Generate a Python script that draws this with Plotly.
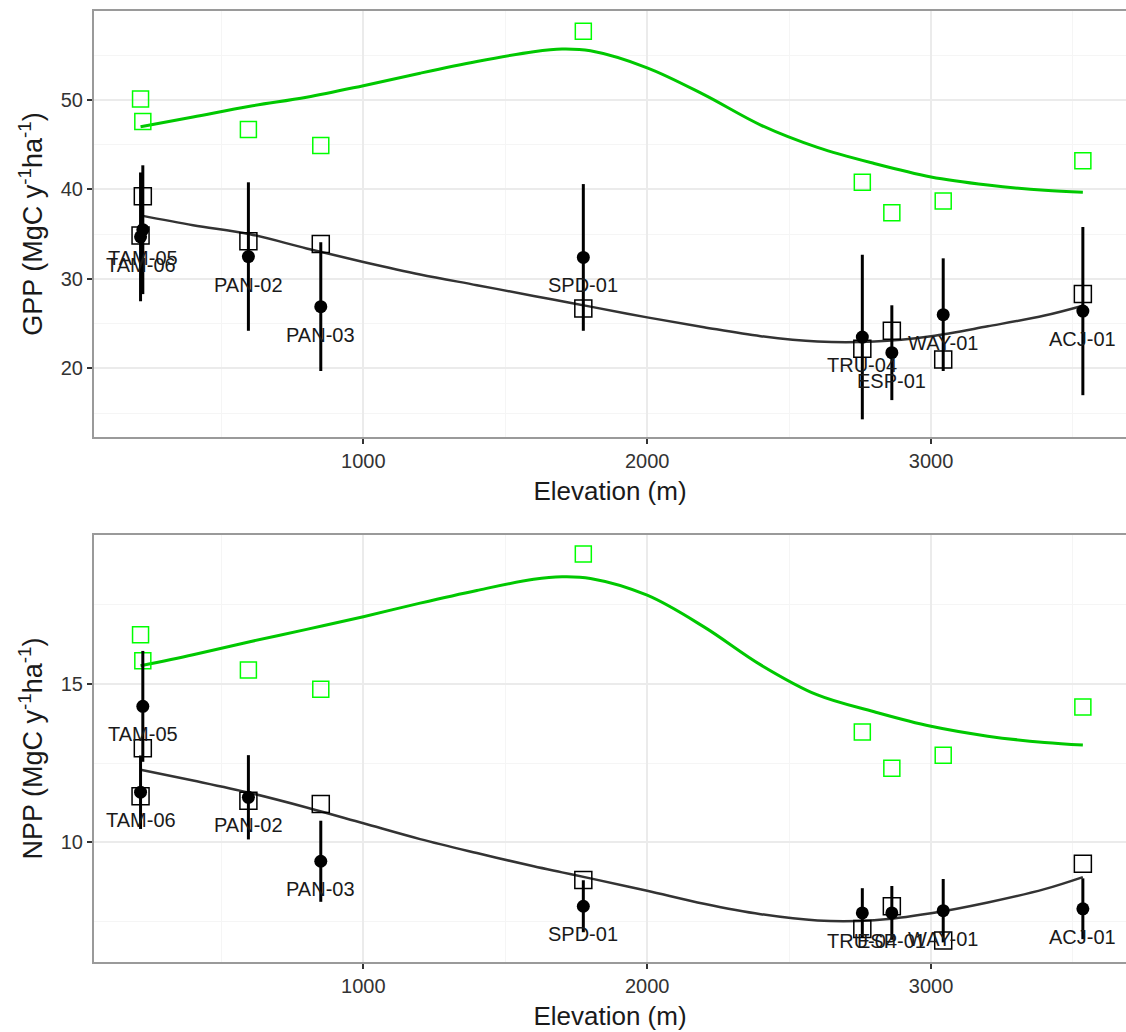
import plotly.graph_objects as go

# ---------------- data ----------------
sites = ["TAM-05", "TAM-06", "PAN-02", "PAN-03", "SPD-01", "TRU-04", "ESP-01", "WAY-01", "ACJ-01"]
elev = [223, 215, 595, 850, 1775, 2758, 2862, 3043, 3535]

gpp_obs = [35.5, 34.7, 32.5, 26.9, 32.4, 23.5, 21.75, 26.0, 26.4]
gpp_err = [7.2, 7.2, 8.3, 7.2, 8.2, 9.2, 5.3, 6.3, 9.4]
gpp_mod_black = [39.25, 34.86, 34.2, 33.9, 26.7, 22.2, 24.2, 21.0, 28.3]
gpp_mod_green = [47.6, 50.1, 46.7, 44.9, 57.7, 40.8, 37.4, 38.7, 43.2]

npp_obs = [14.29, 11.58, 11.42, 9.4, 7.98, 7.77, 7.77, 7.84, 7.9]
npp_err = [1.75, 1.16, 1.33, 1.28, 0.82, 0.78, 0.85, 1.0, 0.96]
npp_mod_black = [12.97, 11.45, 11.31, 11.21, 8.81, 7.26, 7.98, 6.9, 9.32]
npp_mod_green = [15.73, 16.55, 15.44, 14.83, 19.1, 13.48, 12.34, 12.75, 14.27]

# smoothed curves
curve_elev = [215, 400, 600, 800, 1000, 1200, 1400, 1600, 1700, 1800, 2000,
              2200, 2400, 2600, 2800, 3000, 3200, 3400, 3535]
gpp_curve_black = [37.1, 36.0, 35.0, 33.4, 31.9, 30.5, 29.3, 28.1, 27.5, 26.9, 25.7,
                   24.6, 23.6, 23.0, 23.0, 23.6, 24.7, 25.9, 27.0]
gpp_curve_green = [47.0, 48.1, 49.3, 50.3, 51.6, 53.0, 54.3, 55.4, 55.7, 55.5, 53.6,
                   50.6, 47.2, 44.7, 42.9, 41.4, 40.5, 39.9, 39.7]
npp_curve_black = [12.29, 11.95, 11.56, 11.1, 10.6, 10.1, 9.66, 9.24, 9.05, 8.86, 8.47,
                   8.06, 7.73, 7.53, 7.54, 7.76, 8.1, 8.52, 8.9]
npp_curve_green = [15.57, 15.92, 16.33, 16.72, 17.12, 17.55, 17.95, 18.3, 18.38, 18.33, 17.8,
                   16.8, 15.6, 14.65, 14.12, 13.66, 13.35, 13.15, 13.07]

x_title = "Elevation (m)"
gpp_title = "GPP (MgC y<sup>-1</sup>ha<sup>-1</sup>)"
npp_title = "NPP (MgC y<sup>-1</sup>ha<sup>-1</sup>)"

# ---------------- styles ----------------
FONT = "Liberation Sans, Arial, sans-serif"
GREEN_LINE = "#00c800"
GREEN_PT = "#00ff00"
DARK_LINE = "#333333"

fig = go.Figure()

def add_panel(xa, ya, curve_b, curve_g, mod_b, mod_g, obs, err):
    fig.add_trace(go.Scatter(x=curve_elev, y=curve_g, mode="lines",
                             line=dict(color=GREEN_LINE, width=3, shape="spline", smoothing=1.0),
                             xaxis=xa, yaxis=ya, showlegend=False, hoverinfo="skip"))
    fig.add_trace(go.Scatter(x=curve_elev, y=curve_b, mode="lines",
                             line=dict(color=DARK_LINE, width=2.5, shape="spline", smoothing=1.0),
                             xaxis=xa, yaxis=ya, showlegend=False, hoverinfo="skip"))
    fig.add_trace(go.Scatter(x=elev, y=mod_g, mode="markers",
                             marker=dict(symbol="square-open", size=16, color=GREEN_PT,
                                         line=dict(width=1.5, color=GREEN_PT)),
                             xaxis=xa, yaxis=ya, showlegend=False))
    fig.add_trace(go.Scatter(x=elev, y=mod_b, mode="markers",
                             marker=dict(symbol="square-open", size=17, color="black",
                                         line=dict(width=1.5, color="black")),
                             xaxis=xa, yaxis=ya, showlegend=False))
    fig.add_trace(go.Scatter(x=elev, y=obs, mode="markers",
                             marker=dict(symbol="circle", size=13, color="black"),
                             error_y=dict(type="data", array=err, visible=True,
                                          thickness=3, width=0, color="black"),
                             xaxis=xa, yaxis=ya, showlegend=False))
    for s, x, y in zip(sites, elev, obs):
        fig.add_annotation(x=x, y=y, xref=xa, yref=ya, text=s, showarrow=False,
                           yshift=-28, font=dict(family=FONT, size=20, color="#1a1a1a"))

add_panel("x", "y", gpp_curve_black, gpp_curve_green, gpp_mod_black, gpp_mod_green, gpp_obs, gpp_err)
add_panel("x2", "y2", npp_curve_black, npp_curve_green, npp_mod_black, npp_mod_green, npp_obs, npp_err)

def xaxis_style(anchor):
    return dict(
        anchor=anchor, range=[51, 3687], tick0=0, dtick=1000,
        showgrid=True, gridcolor="#ebebeb", gridwidth=1.5,
        minor=dict(dtick=500, tick0=0, showgrid=True, gridcolor="#f5f5f5", gridwidth=1),
        showline=True, linecolor="#9a9a9a", linewidth=2, mirror=True,
        ticks="outside", ticklen=5, tickwidth=1.5, tickcolor="#333333",
        tickfont=dict(family=FONT, size=20, color="#333333"),
        title=dict(text=x_title, font=dict(family=FONT, size=26, color="#1a1a1a"), standoff=11),
        zeroline=False,
    )

def yaxis_style(anchor, rng, dtick, mdtick, domain, title):
    return dict(
        anchor=anchor, range=rng, dtick=dtick, tick0=0, domain=domain,
        showgrid=True, gridcolor="#ebebeb", gridwidth=1.5,
        minor=dict(dtick=mdtick, tick0=0, showgrid=True, gridcolor="#f5f5f5", gridwidth=1),
        showline=True, linecolor="#9a9a9a", linewidth=2, mirror=False,
        ticks="outside", ticklen=5, tickwidth=1.5, tickcolor="#333333",
        tickfont=dict(family=FONT, size=20, color="#333333"),
        title=dict(text=title, font=dict(family=FONT, size=27, color="#1a1a1a"), standoff=10),
        zeroline=False,
    )

fig.update_layout(
    width=1126, height=1032,
    margin=dict(l=94, r=0, t=11, b=70),
    plot_bgcolor="white", paper_bgcolor="white",
    showlegend=False,
    xaxis=xaxis_style("y"),
    yaxis=yaxis_style("x", [12.32, 59.95], 10, 5, [0.552, 1.0], gpp_title),
    xaxis2=xaxis_style("y2"),
    yaxis2=yaxis_style("x2", [6.22, 19.70], 5, 2.5, [0.0, 0.449], npp_title),
)

fig.write_html("out.html")
